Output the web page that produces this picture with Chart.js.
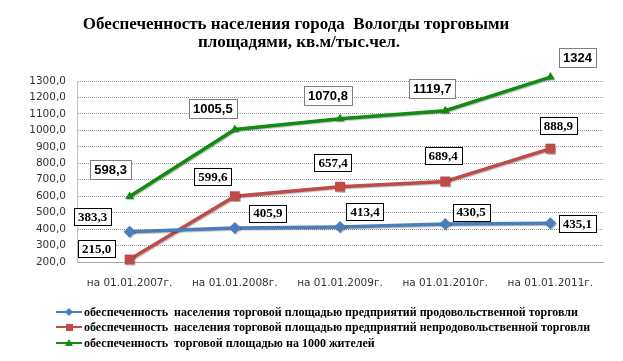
<!DOCTYPE html>
<html>
<head>
<meta charset="utf-8">
<script src="https://cdn.jsdelivr.net/npm/chart.js@4"></script>
<style>
  html, body { margin: 0; padding: 0; background: #fff; }
</style>
</head>
<body>
<canvas id="c" width="623" height="361"></canvas>
<script>
const categories = ["на 01.01.2007г.", "на 01.01.2008г.", "на 01.01.2009г.", "на 01.01.2010г.", "на 01.01.2011г."];
const foodValues = [383.3, 405.9, 413.4, 430.5, 435.1];
const nonFoodValues = [215.0, 599.6, 657.4, 689.4, 888.9];
const totalValues = [598.3, 1005.5, 1070.8, 1119.7, 1324];
const seriesNames = [
  "обеспеченность  населения торговой площадью предприятий продовольственной торговли",
  "обеспеченность  населения торговой площадью предприятий непродовольственной торговли",
  "обеспеченность  торговой площадью на 1000 жителей"
];
const titleLines = ["Обеспеченность населения города  Вологды торговыми", "площадями, кв.м/тыс.чел."];

// label offsets from each point (px), per series
const labelOffsets = [
  [[-37, -15], [33, -15], [25, -15], [26, -12], [27, 0]],
  [[-33, -11], [-22, -20], [-7, -24], [-2, -26], [8, -23]],
  [[-19, -27], [-22, -21], [-12, -23], [-13, -22], [27, -20]]
];

const fmt = (v, i) => (i === 2 && Number.isInteger(v)) ? String(v) : v.toFixed(1).replace(".", ",");

const extras = {
  id: "extras",
  beforeDatasetsDraw(chart) {
    const ctx = chart.ctx;
    ctx.save();
    ctx.shadowColor = "rgba(0,0,0,0.25)";
    ctx.shadowOffsetX = 1;
    ctx.shadowOffsetY = 1;
    ctx.shadowBlur = 1;
  },
  afterDatasetsDraw(chart) {
    chart.ctx.restore();
  },
  afterDraw(chart) {
    const ctx = chart.ctx;
    ctx.save();
    // title
    ctx.fillStyle = "#000";
    ctx.font = "bold 17px 'Liberation Serif'";
    ctx.textAlign = "center";
    ctx.textBaseline = "middle";
    ctx.fillText(titleLines[0], 296, 25);
    ctx.fillText(titleLines[1], 299, 43);

    // data labels
    chart.data.datasets.forEach((ds, i) => {
      const meta = chart.getDatasetMeta(i);
      meta.data.forEach((pt, j) => {
        const txt = fmt(ds.data[j], i);
        const off = labelOffsets[i][j];
        const cx = pt.x + off[0], cy = pt.y + off[1];
        ctx.font = i === 2 ? "bold 13px 'Liberation Sans'" : "bold 13px 'Liberation Serif'";
        const w = ctx.measureText(txt).width + 8;
        const h = i === 2 ? 19 : 17;
        ctx.fillStyle = "#fff";
        ctx.fillRect(Math.round(cx - w / 2) + 0.5, Math.round(cy - h / 2) + 0.5, Math.round(w), h);
        ctx.strokeStyle = i === 2 ? "#7f7f7f" : "#000";
        ctx.lineWidth = 1;
        ctx.strokeRect(Math.round(cx - w / 2) + 0.5, Math.round(cy - h / 2) + 0.5, Math.round(w), h);
        ctx.fillStyle = "#000";
        ctx.textAlign = "center";
        ctx.textBaseline = "middle";
        ctx.fillText(txt, cx, cy + 1);
      });
    });

    // legend
    const ly = [312, 327, 343];
    chart.data.datasets.forEach((ds, i) => {
      const y = ly[i];
      ctx.strokeStyle = ds.borderColor;
      ctx.lineWidth = 2;
      ctx.beginPath();
      ctx.moveTo(56, y);
      ctx.lineTo(82, y);
      ctx.stroke();
      ctx.fillStyle = ds.backgroundColor;
      ctx.beginPath();
      if (i === 0) {
        ctx.moveTo(69, y - 4); ctx.lineTo(73, y); ctx.lineTo(69, y + 4); ctx.lineTo(65, y);
      } else if (i === 1) {
        ctx.rect(66, y - 3, 7, 7);
      } else {
        ctx.moveTo(69, y - 4); ctx.lineTo(73, y + 3); ctx.lineTo(65, y + 3);
      }
      ctx.closePath();
      ctx.fill();
      ctx.fillStyle = "#000";
      ctx.font = "bold 12px 'Liberation Serif'";
      ctx.textAlign = "left";
      ctx.textBaseline = "middle";
      ctx.fillText(ds.label, 84, y + 1);
    });
    ctx.restore();
  }
};

new Chart(document.getElementById("c"), {
  type: "line",
  data: {
    labels: categories,
    datasets: [
      {
        label: seriesNames[0],
        data: foodValues,
        borderColor: "#4a7ebb",
        backgroundColor: "#4a7ebb",
        borderWidth: 3.5,
        pointStyle: "rectRot",
        pointRadius: 6,
        pointBorderWidth: 0
      },
      {
        label: seriesNames[1],
        data: nonFoodValues,
        borderColor: "#be4b48",
        backgroundColor: "#be4b48",
        borderWidth: 3.5,
        pointStyle: "rect",
        pointRadius: 7,
        pointBorderWidth: 0
      },
      {
        label: seriesNames[2],
        data: totalValues,
        borderColor: "#138a13",
        backgroundColor: "#138a13",
        borderWidth: 3.5,
        pointStyle: "triangle",
        pointRadius: 5,
        pointBorderWidth: 0
      }
    ]
  },
  options: {
    responsive: false,
    animation: false,
    devicePixelRatio: 1,
    clip: false,
    layout: { padding: { top: 81, right: 20, bottom: 69, left: 0 } },
    plugins: {
      legend: { display: false },
      title: { display: false },
      tooltip: { enabled: false }
    },
    scales: {
      x: {
        offset: true,
        afterFit: s => { s.height = 30; },
        grid: { display: false, drawTicks: false },
        border: { display: true, color: "#a6a6a6" },
        ticks: { padding: 15, color: "#333", font: { family: "'DejaVu Sans'", size: 10.5 } }
      },
      y: {
        min: 200,
        max: 1300,
        afterFit: s => { s.width = 77; },
        grid: { color: "#9a9a9a", drawTicks: false },
        border: { display: true, color: "#bfbfbf", dash: [1, 1] },
        ticks: {
          stepSize: 100,
          padding: 11,
          color: "#333",
          font: { family: "'DejaVu Sans'", size: 10.5 },
          callback: v => v.toFixed(1).replace(".", ",")
        }
      }
    }
  },
  plugins: [extras]
});
</script>
</body>
</html>
